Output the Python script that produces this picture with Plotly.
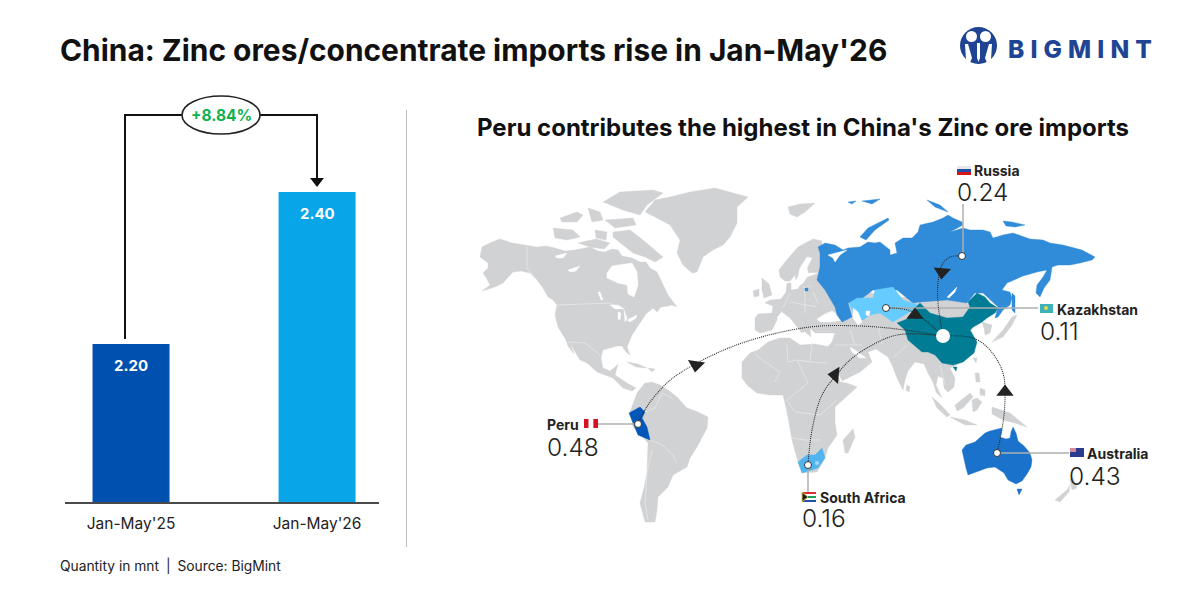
import plotly.graph_objects as go

FONT = "Inter"

# Bar chart data
periods = ["Jan-May'25", "Jan-May'26"]
quantities = [2.20, 2.40]
bar_colors = ["#0050B0", "#08A5E8"]
growth_label = "+8.84%"

# Exporters
countries = ["Russia", "Kazakhstan", "Peru", "South Africa", "Australia"]
country_values = [0.24, 0.11, 0.48, 0.16, 0.43]

# Map outlines on a 1200x600 canvas grid
grey_land = [
    # North America
    [(482,247),(492,242),(500,239),(512,243),(525,245),(537,247),(546,246),(555,248),(565,251),(575,250),(590,247),(598,251),(605,252),(612,249),(618,250),(622,256),(632,258),(640,262),(646,262),(650,268),(657,272),(662,282),(668,295),(677,307),(672,305),(668,306),(661,307),(657,312),(653,308),(646,314),(637,327),(632,335),(630,340),(627,347),(630,355),(626,352),(622,346),(617,346),(610,348),(603,350),(601,358),(603,368),(610,371),(614,368),(618,364),(615,375),(621,379),(627,383),(636,388),(632,391),(623,388),(613,378),(605,375),(597,372),(587,363),(580,360),(574,350),(570,342),(574,354),(568,346),(566,340),(558,327),(555,315),(557,305),(553,300),(548,297),(543,288),(537,280),(530,273),(521,271),(513,272),(508,278),(503,283),(495,287),(482,291),(490,285),(487,279),(483,273),(488,268),(488,263),(480,257)],
    # Canadian Arctic
    [(613,232),(630,230),(643,240),(660,255),(663,257),(655,262),(645,257),(633,253),(620,243),(613,237)],
    [(553,228),(573,230),(580,237),(567,240),(555,238)],
    [(603,202),(620,192),(653,190),(663,193),(647,205),(640,215),(623,210)],
    [(560,218),(577,212),(583,215),(577,222),(562,222)],
    [(588,208),(600,212),(603,220),(592,222)],
    [(605,220),(633,218),(636,225),(615,228)],
    [(595,230),(607,232),(606,240),(596,238)],
    [(578,243),(596,239),(610,243),(604,249),(590,247)],
    # Greenland
    [(645,212),(655,200),(670,197),(690,192),(715,188),(730,192),(748,197),(737,207),(737,223),(730,237),(723,245),(713,250),(703,257),(697,272),(692,273),(683,265),(677,253),(680,240),(670,225),(657,218)],
    # Svalbard
    [(788,207),(800,204),(815,203),(805,212),(797,217),(790,214)],
    # Caribbean
    [(627,362),(638,364),(647,368),(636,367)],
    [(648,368),(655,369),(652,372)],
    # Eurasia
    [(755,318),(758,314),(772,313),(773,306),(765,303),(770,300),(781,299),(786,292),(787,283),(791,283),(791,290),(798,289),(800,285),(805,288),(815,285),(823,275),(880,296),(960,300),(985,312),(982,322),(973,328),(971,331),(976,342),(973,353),(963,362),(953,366),(950,368),(955,378),(954,387),(948,392),(944,388),(943,378),(938,376),(936,385),(942,398),(936,392),(933,382),(928,373),(924,364),(915,362),(908,371),(905,380),(903,390),(897,378),(892,365),(888,357),(876,349),(868,352),(872,362),(860,372),(842,381),(838,372),(833,362),(825,350),(832,342),(835,333),(815,333),(810,328),(811,337),(804,331),(803,324),(795,311),(789,312),(783,310),(777,317),(777,320),(772,330),(760,333),(755,330)],
    # Italy, Britain, Ireland
    [(783,310),(795,310),(806,330),(802,333),(790,318),(782,312)],
    [(762,278),(769,284),(772,295),(764,298),(762,290)],
    [(753,291),(759,289),(759,296),(754,297)],
    # Scandinavia and Finland
    [(780,277),(779,270),(785,262),(798,247),(813,239),(822,241),(820,260),(823,275),(815,285),(806,287),(797,285),(795,275),(790,281),(785,281)],
    # Africa
    [(758,350),(768,342),(780,338),(790,338),(800,345),(815,344),(830,347),(835,365),(840,382),(847,383),(857,387),(845,398),(835,407),(835,422),(837,435),(828,448),(825,458),(817,472),(802,473),(798,462),(792,440),(787,412),(783,395),(770,395),(757,393),(748,386),(742,378),(742,362),(750,353)],
    # Madagascar, Sri Lanka
    [(845,453),(843,440),(853,429),(855,437),(848,453)],
    [(907,385),(910,387),(909,392),(906,390)],
    # South America
    [(630,412),(637,393),(645,383),(652,382),(660,385),(668,390),(677,397),(687,408),(698,412),(708,417),(707,428),(697,447),(690,458),(687,467),(673,475),(668,487),(658,497),(657,510),(655,522),(645,522),(640,503),(644,488),(647,473),(648,443),(633,427)],
    # Korea, Japan, Taiwan
    [(982,322),(992,325),(990,333),(985,335),(984,328)],
    [(992,342),(1003,330),(1012,317),(1017,315),(1012,325),(1003,337)],
    [(973,358),(977,358),(976,363)],
    # Southeast Asia and Oceania
    [(975,373),(979,373),(980,382),(976,382)],
    [(980,388),(985,390),(985,396),(980,395)],
    [(955,405),(970,393),(973,397),(963,408),(957,411)],
    [(932,397),(940,404),(950,415),(947,417),(937,408)],
    [(950,417),(965,420),(977,425),(965,425)],
    [(972,400),(977,398),(982,402),(977,410),(973,412)],
    [(992,407),(1010,413),(1027,427),(1015,423),(1003,420),(992,414)],
    [(1055,500),(1067,490),(1070,485),(1069,492),(1060,502)],
    [(1070,480),(1073,477),(1077,488),(1072,490)],
]

seas = [
    # Hudson Bay
    [(607,273),(612,266),(625,264),(632,263),(637,272),(638,285),(634,297),(628,294),(627,285),(618,283),(607,278)],
    # Canadian and Great Lakes
    [(555,256),(567,253),(563,258),(557,258)],
    [(568,270),(580,266),(576,271),(570,272)],
    [(598,292),(600,292),(603,300),(601,300)],
    [(610,305),(618,305),(624,309),(615,309)],
    [(618,312),(621,313),(620,320),(618,319)],
    [(624,310),(627,318),(625,322)],
    [(627,320),(637,315),(636,318),(630,322)],
    # Baltic
    [(798,277),(800,268),(807,257),(812,258),(807,268),(808,273),(818,273),(807,277),(803,283),(798,287),(795,282)],
    # Black Sea, Persian Gulf
    [(817,319),(825,314),(832,311),(838,315),(845,320),(830,322),(820,322)],
    [(850,347),(858,352),(866,358),(860,358),(852,352)],
]

russia_land = [
    [(818,247),(825,243),(835,245),(843,250),(848,248),(855,247),(860,247),(868,242),(875,243),(880,242),(887,247),(890,250),(890,255),(897,253),(895,243),(903,238),(912,238),(918,232),(920,225),(933,222),(943,218),(948,215),(953,218),(962,222),(963,225),(950,232),(963,228),(970,230),(983,230),(990,232),(993,238),(1003,235),(1013,233),(1023,237),(1030,239),(1043,240),(1050,243),(1063,245),(1073,248),(1082,250),(1095,257),(1092,260),(1080,263),(1070,265),(1058,265),(1052,267),(1050,280),(1044,288),(1040,297),(1036,293),(1037,285),(1043,277),(1047,270),(1037,272),(1023,276),(1007,283),(1002,290),(1010,292),(1012,298),(1010,305),(1003,310),(998,317),(995,318),(997,310),(998,307),(983,293),(975,293),(967,303),(947,300),(920,302),(913,303),(897,290),(873,290),(860,300),(848,303),(852,317),(842,322),(837,315),(835,307),(825,290),(817,280),(820,267),(820,253)],
    [(860,237),(868,228),(888,218),(889,220),(875,230),(866,240)],
    [(927,200),(940,205),(948,212),(935,207)],
    [(1003,221),(1012,222),(1025,225),(1015,227),(1006,226)],
    [(848,202),(856,201),(852,204)],
    [(862,201),(880,199),(872,204)],
    [(1012,293),(1015,296),(1015,313),(1012,310)],
    [(805,288),(808,288),(808,291),(805,291)],
]
russia_holes = [
    [(828,255),(847,250),(840,255),(835,262),(833,258)],
    [(947,297),(957,287),(955,292),(949,298)],
]
kazakhstan_land = [[(849,303),(857,298),(873,298),(875,290),(893,287),(903,300),(918,305),(913,310),(908,313),(893,322),(880,313),(870,315),(863,320),(855,318),(852,310)]]
inland_waters = [
    [(853,308),(858,312),(862,322),(858,325),(853,318)],
    [(866,311),(870,311),(869,316),(866,315)],
]
china_land = [
    [(897,323),(912,317),(913,310),(920,303),(930,313),(947,318),(963,317),(970,307),(968,302),(977,293),(985,297),(990,303),(998,308),(995,313),(987,318),(982,322),(973,327),(970,330),(977,342),(974,353),(963,362),(953,365),(942,363),(935,355),(928,352),(922,352),(908,340),(905,330)],
    [(953,367),(957,367),(956,371)],
]
peru_land = [[(629,413),(640,407),(645,412),(642,418),(647,427),(650,440),(638,435),(633,422)]]
south_africa_land = [[(798,462),(807,455),(815,455),(822,448),(825,458),(818,468),(802,473)]]
lesotho_land = [[(815,462),(818,461),(819,464),(816,465)]]
australia_land = [
    [(962,450),(966,445),(975,442),(980,437),(985,433),(990,431),(1002,428),(1001,434),(1000,437),(1006,439),(1010,438),(1011,432),(1013,427),(1016,433),(1018,441),(1024,446),(1030,453),(1032,460),(1031,467),(1027,474),(1022,481),(1016,484),(1008,480),(1004,473),(1000,470),(995,467),(987,468),(978,471),(968,475),(966,468),(965,463)],
    [(1017,489),(1022,489),(1019,495)],
]

# Internal borders
border_lines = [
    [(557,305),(610,303),(617,307)], [(527,245),(527,268),(537,280)], [(568,342),(585,343),(600,355)],
    [(645,412),(655,408),(662,393)], [(650,440),(662,445),(673,455),(677,463)], [(652,450),(647,473),(645,503),(648,520)],
    [(662,393),(672,398)], [(755,353),(758,357),(780,372),(775,382)], [(787,345),(788,362),(797,360),(810,362),(812,343)],
    [(810,362),(827,363)], [(808,383),(787,400),(795,412),(820,415),(837,400)], [(792,438),(805,440),(820,440)],
    [(797,360),(808,383)], [(783,308),(790,293)], [(805,290),(805,313)], [(790,302),(817,307)], [(813,292),(818,303)],
    [(850,330),(855,345)], [(882,345),(878,325)], [(907,345),(893,358)], [(940,365),(945,385)], [(835,345),(862,345)],
]

# Route waypoints: each one runs from the exporter to the hub
routes = [
    [(962,256),(950,257),(942,265),(938,283),(938,303),(943,336)],
    [(886,308),(903,309),(915,313),(943,336)],
    [(638,424),(646,408),(668,382),(697,363),(745,342),(810,327),(860,326),(897,329),(943,336)],
    [(808,465),(812,430),(822,395),(838,373),(850,360),(867,348),(897,335),(943,336)],
    [(997,453),(1003,423),(1005,397),(1003,373),(990,350),(973,338),(943,336)],
]
route_arrows = [(942,272,185),(915,315,0),(696,365,188),(835,375,275),(1005,392,0)]
leader_lines = [
    [(963,256),(963,204)], [(886,308),(1038,308)], [(638,424),(598,424)], [(808,465),(808,492)], [(997,453),(1069,453)],
]
origin_dots = [(962,256),(886,308),(638,424),(808,465),(997,453)]


def flatten(polys):
    xs, ys = [], []
    for poly in polys:
        xs += [p[0] for p in poly] + [poly[0][0], None]
        ys += [p[1] for p in poly] + [poly[0][1], None]
    return xs, ys


def open_lines(lines):
    xs, ys = [], []
    for line in lines:
        xs += [p[0] for p in line] + [None]
        ys += [p[1] for p in line] + [None]
    return xs, ys


fig = go.Figure()

# Year-on-year bars on a truncated axis
fig.add_trace(go.Bar(x=[0, 1], y=quantities, width=0.414, marker=dict(color=bar_colors, line_width=0),
                     hoverinfo="skip", showlegend=False))


def add_land(polys, color):
    xs, ys = flatten(polys)
    fig.add_trace(go.Scatter(x=xs, y=ys, xaxis="x2", yaxis="y2", mode="lines", fill="toself", fillcolor=color,
                             line=dict(color=color, width=0.4), hoverinfo="skip", showlegend=False))


add_land(grey_land, "#D1D2D4")
bx, by = open_lines(border_lines)
fig.add_trace(go.Scatter(x=bx, y=by, xaxis="x2", yaxis="y2", mode="lines", line=dict(color="#E6E7E8", width=0.8),
                         hoverinfo="skip", showlegend=False))
add_land(seas, "#FFFFFF")
add_land(russia_land, "#308BD8")
add_land(russia_holes, "#FFFFFF")
add_land(kazakhstan_land, "#66CCFF")
add_land(inland_waters, "#FFFFFF")
add_land(china_land, "#007C95")
add_land(peru_land, "#0057B8")
add_land(south_africa_land, "#50B4EE")
add_land(lesotho_land, "#A9D9F5")
add_land(australia_land, "#1B72CB")

# Leader lines, routes, arrowheads, dots
lx, ly = open_lines(leader_lines)
fig.add_trace(go.Scatter(x=lx, y=ly, xaxis="x2", yaxis="y2", mode="lines", line=dict(color="#AEAFB1", width=1.5),
                         hoverinfo="skip", showlegend=False))
for route in routes:
    fig.add_trace(go.Scatter(x=[p[0] for p in route], y=[p[1] for p in route], xaxis="x2", yaxis="y2", mode="lines",
                             line=dict(color="#2A2A2A", width=1.1, dash="1px,1px", shape="spline", smoothing=1),
                             hoverinfo="skip", showlegend=False))
fig.add_trace(go.Scatter(x=[a[0] for a in route_arrows], y=[a[1] for a in route_arrows], xaxis="x2", yaxis="y2",
                         mode="markers", marker=dict(symbol="triangle-up", size=15, color="#222222",
                                                     angle=[a[2] for a in route_arrows], line_width=0),
                         hoverinfo="skip", showlegend=False))
fig.add_trace(go.Scatter(x=[p[0] for p in origin_dots], y=[p[1] for p in origin_dots], xaxis="x2", yaxis="y2",
                         mode="markers", marker=dict(size=7, color="white", line=dict(color="#333333", width=1)),
                         hoverinfo="skip", showlegend=False))
fig.add_trace(go.Scatter(x=[943], y=[336], xaxis="x2", yaxis="y2", mode="markers",
                         marker=dict(size=14, color="white", line_width=0), hoverinfo="skip", showlegend=False))

# Growth connector above the bars
fig.add_trace(go.Scatter(x=[125, 125, 317, 317], y=[339, 115, 115, 178], xaxis="x2", yaxis="y2", mode="lines",
                         line=dict(color="#111111", width=2), hoverinfo="skip", showlegend=False))
fig.add_trace(go.Scatter(x=[317], y=[181], xaxis="x2", yaxis="y2", mode="markers",
                         marker=dict(symbol="triangle-down", size=12, color="#111111", line_width=0),
                         hoverinfo="skip", showlegend=False))

annotations = []


def label(x, y, text, size, color="#222222", weight=400, anchor="left", xref="x2", yref="y2", yshift=0):
    annotations.append(dict(x=x, y=y, xref=xref, yref=yref, text=text, showarrow=False, xanchor=anchor, yanchor="middle",
                            yshift=yshift, xshift=-2 if anchor == "left" else 0,
                            font=dict(family=FONT, size=size, color=color, weight=weight)))


label(60, 50, "China: Zinc ores/concentrate imports rise in Jan-May'26", 29.9, "#111111", 700)
label(477, 127, "Peru contributes the highest in China's Zinc ore imports", 24, "#111111", 700)
label(221, 115.5, growth_label, 15.5, "#10B04F", 700, "center")
label(60, 565, "Quantity in mnt\u2002|\u2002Source: BigMint", 13.8, "#222222")

# Bar value labels sit inside each bar
for i, q in enumerate(quantities):
    label(i, q, f"{q:.2f}", 15, "white", 700, "center", "x", "y", -22)

# Country name and value positions
name_pos = [(974, 170), (1057, 309), (547, 424), (820, 497), (1087, 453)]
value_pos = [(957, 192), (1040, 331), (547, 447), (802, 518), (1069, 476)]
for name, val, np_, vp in zip(countries, country_values, name_pos, value_pos):
    label(np_[0], np_[1], name, 14, "#222222", 700)
    label(vp[0], vp[1], f"{val:.2f}", 24.5, "#222222", 300)

# Logo wordmark
label(1008, 49, "\u2005".join("BIGMINT"), 24.5, "#1F4494", 800)

shapes = [
    # Panel divider
    dict(type="line", xref="x2", yref="y2", x0=406.5, x1=406.5, y0=110, y1=547, line=dict(color="#BDBEC0", width=1)),
    # Growth pill
    dict(type="circle", xref="x2", yref="y2", x0=182, x1=260, y0=96, y1=134, fillcolor="white",
         line=dict(color="#222222", width=1.6)),
    # Logo emblem
    dict(type="circle", xref="x2", yref="y2", x0=960, x1=997, y0=27, y1=64, fillcolor="#1F4494", line_width=0),
    dict(type="circle", xref="x2", yref="y2", x0=966, x1=977, y0=31, y1=42, fillcolor="white", line_width=0),
    dict(type="circle", xref="x2", yref="y2", x0=980, x1=991, y0=31, y1=42, fillcolor="white", line_width=0),
    dict(type="path", xref="x2", yref="y2", fillcolor="white", line_width=0,
         path="M 965 44 L 968 44 L 972 58 L 969 65 L 966 60 Z M 992 44 L 989 44 L 985 58 L 988 65 L 991 60 Z"),
    dict(type="path", xref="x2", yref="y2", fillcolor="white", line_width=0,
         path="M 977 43 L 980 43 L 980 58 L 978.5 62 L 977 58 Z"),
]

# Flags
def band_flag(x0, y0, w, h, colors, vertical=False):
    n = len(colors)
    for i, c in enumerate(colors):
        if vertical:
            shapes.append(dict(type="rect", xref="x2", yref="y2", x0=x0 + w * i / n, x1=x0 + w * (i + 1) / n,
                               y0=y0, y1=y0 + h, fillcolor=c, line_width=0))
        else:
            shapes.append(dict(type="rect", xref="x2", yref="y2", x0=x0, x1=x0 + w,
                               y0=y0 + h * i / n, y1=y0 + h * (i + 1) / n, fillcolor=c, line_width=0))


band_flag(957, 166, 14, 9, ["#E8E8EC", "#1F4FA8", "#D7141A"])
band_flag(1040, 304, 13, 9, ["#3BB3B8"])
shapes.append(dict(type="circle", xref="x2", yref="y2", x0=1044, x1=1048, y0=306, y1=310, fillcolor="#E9D44A", line_width=0))
band_flag(584, 419, 14, 9, ["#D91023", "#FFFFFF", "#D91023"], vertical=True)
band_flag(802, 492, 14, 10, ["#D8303A", "#FFFFFF", "#1FA055", "#FFFFFF", "#1F4FA8"])
shapes.append(dict(type="path", xref="x2", yref="y2", path="M 802 492 L 808 497 L 802 502 Z", fillcolor="#1C1C1C",
                   line=dict(color="#E6C53A", width=1)))
band_flag(1070, 448, 14, 9, ["#2B3C8F"])
shapes.append(dict(type="rect", xref="x2", yref="y2", x0=1070, x1=1076, y0=448, y1=452, fillcolor="#D98AA0", line_width=0))

fig.update_layout(
    width=1200, height=600, margin=dict(l=0, r=0, t=0, b=0), autosize=False,
    paper_bgcolor="white", plot_bgcolor="rgba(0,0,0,0)", showlegend=False,
    xaxis=dict(domain=[65 / 1200, 379 / 1200], range=[-0.355, 1.333], tickmode="array", tickvals=[0, 1], ticktext=periods,
               showgrid=False, zeroline=False, showline=True, linecolor="#4A4A4A", linewidth=2, ticks="",
               tickfont=dict(family=FONT, size=15.5, color="#222222"), ticklabelstandoff=6, anchor="y"),
    yaxis=dict(domain=[98 / 600, 500 / 600], range=[1.992, 2.521], visible=False, anchor="x"),
    xaxis2=dict(domain=[0, 1], range=[0, 1200], visible=False, anchor="y2"),
    yaxis2=dict(domain=[0, 1], range=[600, 0], visible=False, anchor="x2"),
    annotations=annotations, shapes=shapes,
)

fig.write_html("out.html", config=dict(displayModeBar=False))
